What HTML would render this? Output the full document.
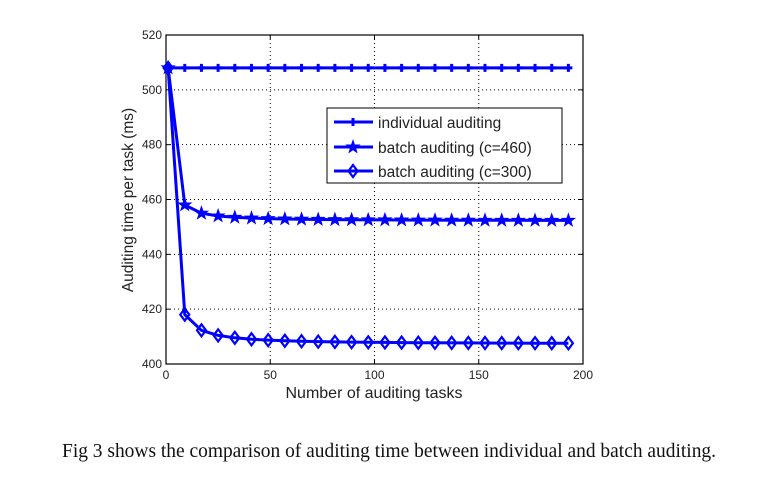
<!DOCTYPE html>
<html><head><meta charset="utf-8"><style>
body{margin:0;background:#fff;width:762px;height:477px;overflow:hidden}
svg{display:block}
</style></head><body>
<svg id="s" width="762" height="477" xmlns="http://www.w3.org/2000/svg" font-family="Liberation Sans, Arial, sans-serif">
<rect x="166" y="35" width="417" height="329" fill="#fff"/>
<g id="grid" stroke="#000" stroke-width="1" stroke-dasharray="1,3"></g>
<rect x="166" y="35" width="417" height="329" fill="none" stroke="#000" stroke-width="1.2"/>
<g id="ticks" font-size="12" fill="#222"></g>
<g id="series"></g>
<rect x="327" y="108" width="235" height="75" fill="#fff" stroke="#000" stroke-width="1"/>
<g font-size="15.5" fill="#222">
<text x="378" y="128">individual auditing</text>
<text x="378" y="153">batch auditing (c=460)</text>
<text x="378" y="177">batch auditing (c=300)</text>
</g>
<g id="leg"></g>
<text x="374" y="398" font-size="16" fill="#222" text-anchor="middle">Number of auditing tasks</text>
<text transform="translate(133,200) rotate(-90)" font-size="15.5" fill="#222" text-anchor="middle">Auditing time per task (ms)</text>
<text x="62" y="457" font-family="Liberation Serif, serif" font-size="19.5" fill="#111" textLength="654" lengthAdjust="spacingAndGlyphs">Fig 3 shows the comparison of auditing time between individual and batch auditing.</text>
</svg>
<script>
var NS="http://www.w3.org/2000/svg";
function X(v){return 166+v*417/200}
function Y(v){return 364-(v-400)*329/120}
function el(t,a,p){var e=document.createElementNS(NS,t);for(var k in a)e.setAttribute(k,a[k]);p.appendChild(e);return e}
var g=document.getElementById('grid'),tk=document.getElementById('ticks');
[50,100,150].forEach(function(v){el('line',{x1:X(v),x2:X(v),y1:35,y2:364},g)});
[420,440,460,480,500].forEach(function(v){el('line',{x1:166,x2:583,y1:Y(v),y2:Y(v)},g)});
[0,50,100,150,200].forEach(function(v){var t=el('text',{x:X(v),y:379,'text-anchor':'middle'},tk);t.textContent=v;
el('line',{x1:X(v),x2:X(v),y1:364,y2:360,stroke:'#000'},tk);el('line',{x1:X(v),x2:X(v),y1:35,y2:39,stroke:'#000'},tk)});
[400,420,440,460,480,500,520].forEach(function(v){var t=el('text',{x:162,y:Y(v)+4,'text-anchor':'end'},tk);t.textContent=v;
el('line',{x1:166,x2:170,y1:Y(v),y2:Y(v),stroke:'#000'},tk);el('line',{x1:583,x2:579,y1:Y(v),y2:Y(v),stroke:'#000'},tk)});
var s=document.getElementById('series');
var xs=[];for(var x=1;x<=193;x+=8)xs.push(x);
function f1(x){return 508}
function f2(x){return x<2?508:452.2+5.8*Math.pow(9/x,1.15)}
function f3(x){return x<2?508:407.3+10.7*Math.pow(9/x,1.2)}
function plus(cx,cy,p){el('path',{d:'M'+(cx-4)+' '+cy+'h8M'+cx+' '+(cy-4)+'v8',stroke:'#00f','stroke-width':3},p)}
function star(cx,cy,p){var d='';for(var i=0;i<10;i++){var r=i%2?2.6:6.5,a=-Math.PI/2+i*Math.PI/5;d+=(i?'L':'M')+(cx+r*Math.cos(a)).toFixed(1)+' '+(cy+r*Math.sin(a)).toFixed(1)}el('path',{d:d+'Z',fill:'#00f',stroke:'#00f','stroke-width':1},p)}
function dia(cx,cy,p){el('path',{d:'M'+cx+' '+(cy-6)+'L'+(cx+4.5)+' '+cy+'L'+cx+' '+(cy+6)+'L'+(cx-4.5)+' '+cy+'Z',fill:'none',stroke:'#00f','stroke-width':2.2},p)}
[[f1,plus],[f2,star],[f3,dia]].forEach(function(q){
 var d=xs.map(function(x,i){return (i?'L':'M')+X(x).toFixed(1)+' '+Y(q[0](x)).toFixed(1)}).join('');
 el('path',{d:d,fill:'none',stroke:'#00f','stroke-width':3,'stroke-linejoin':'round'},s);
 xs.forEach(function(x){q[1](X(x),Y(q[0](x)),s)});
});
var L=document.getElementById('leg');
[[122,plus],[147,star],[171,dia]].forEach(function(q){el('line',{x1:334,x2:373,y1:q[0],y2:q[0],stroke:'#00f','stroke-width':3},L);q[1](353,q[0],L)});
</script>
</body></html>
